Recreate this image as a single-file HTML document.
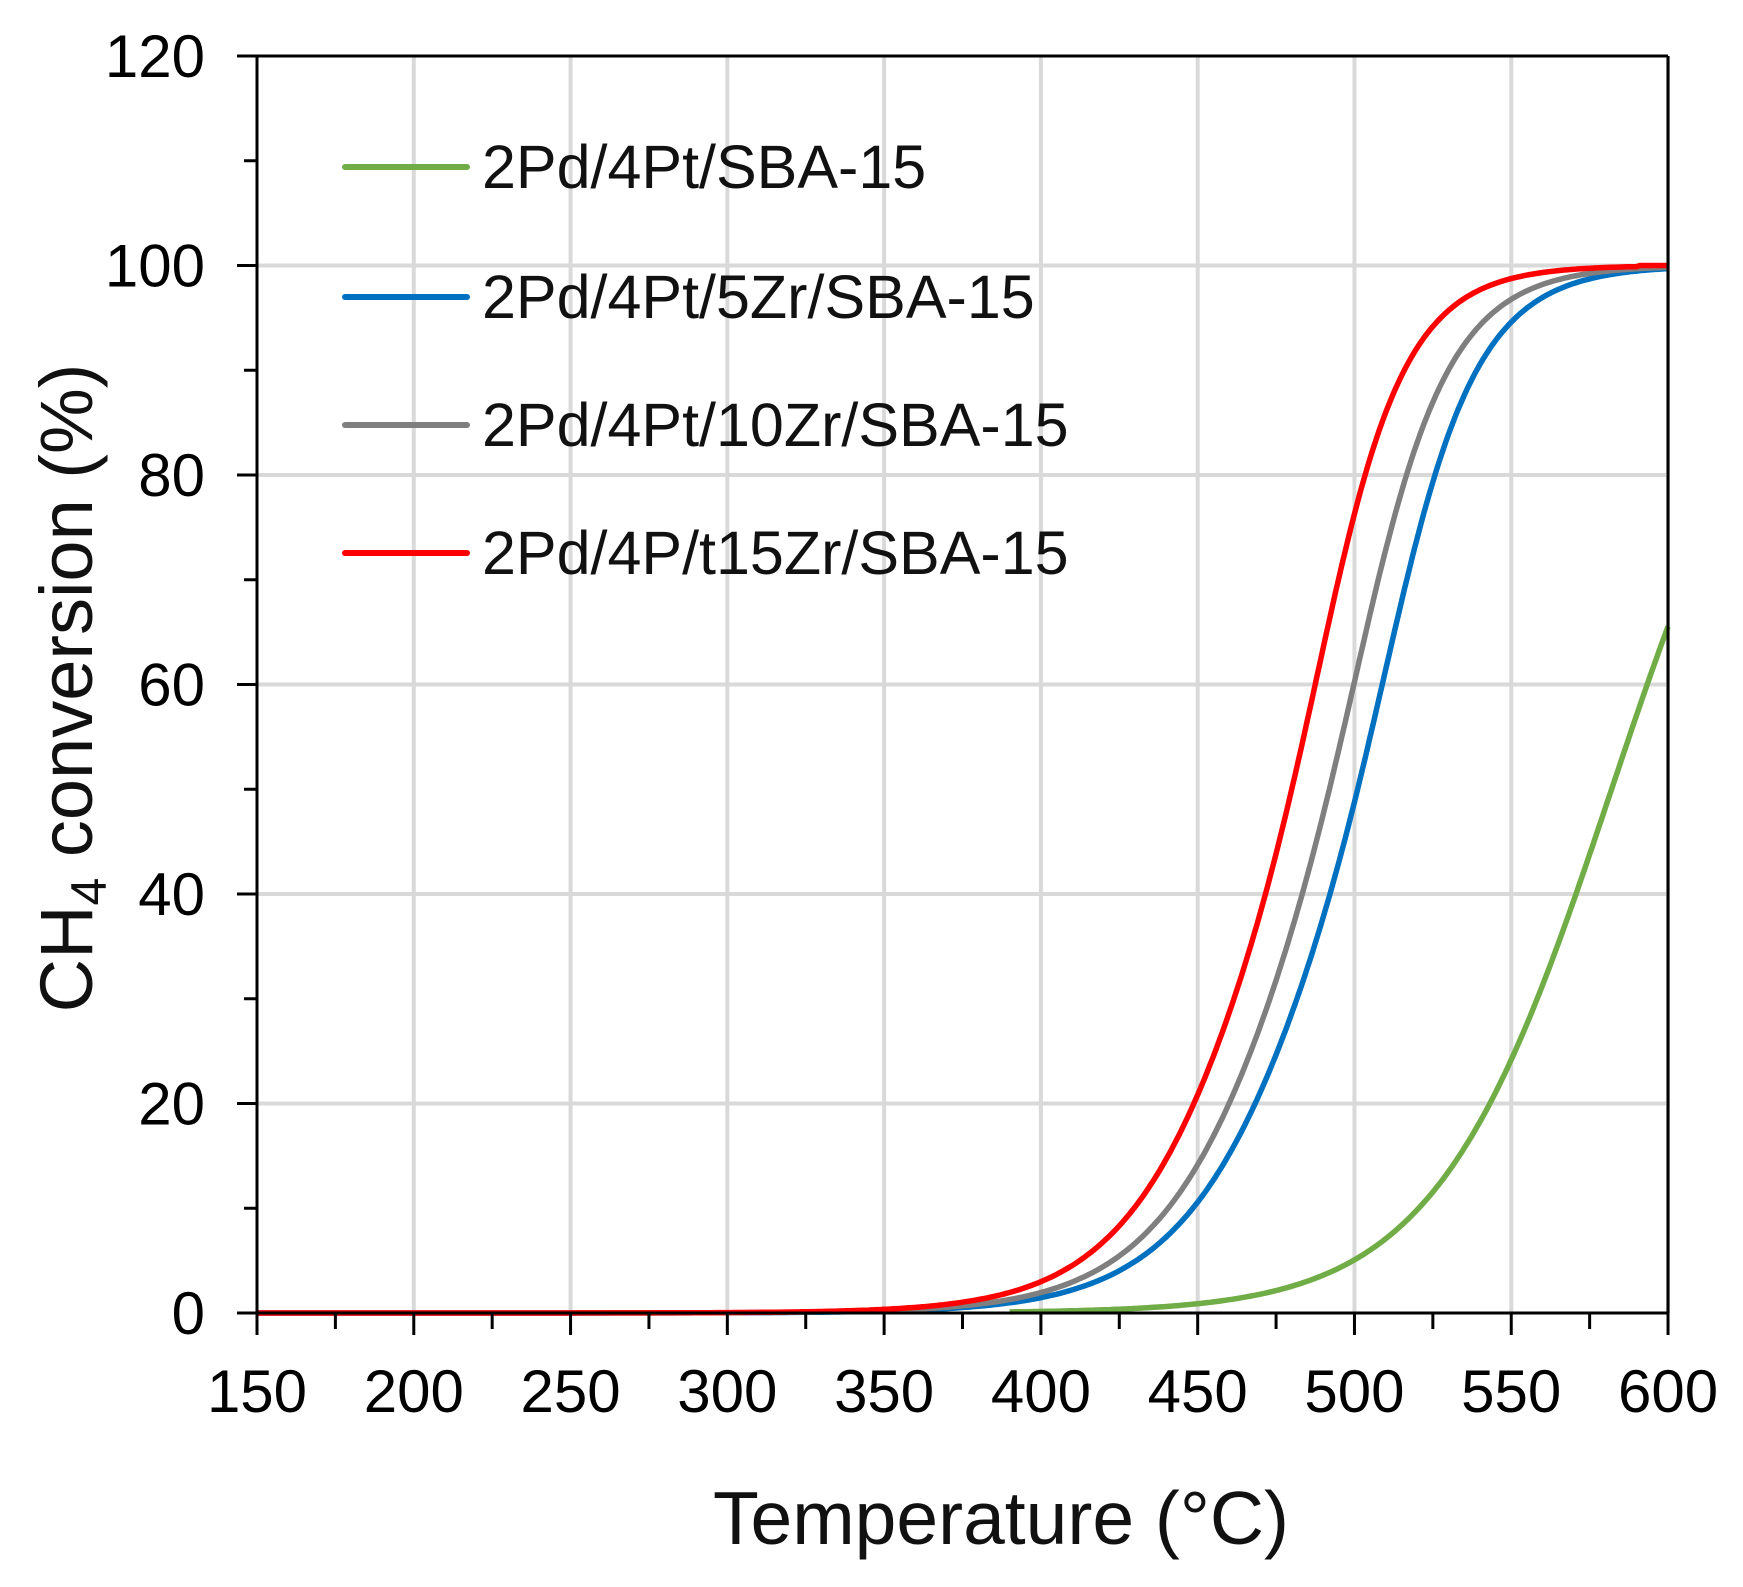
<!DOCTYPE html>
<html><head><meta charset="utf-8"><style>
html,body{margin:0;padding:0;background:#fff;}
svg{display:block;font-family:"Liberation Sans",Arial,sans-serif;}
</style></head><body>
<svg id="s" width="1743" height="1587" viewBox="0 0 1743 1587" xmlns="http://www.w3.org/2000/svg">
<rect width="1743" height="1587" fill="#fff"/>
<g id="grid" stroke="#d9d9d9" stroke-width="4"></g>
<g id="curves" fill="none" stroke-width="5.5" stroke-linejoin="round"></g>
<g id="axes" stroke="#000" stroke-width="3"></g>
<g id="labels" font-size="60" fill="#000"></g>
<g font-size="61" fill="#111">
<line x1="345" y1="167" x2="467" y2="167" stroke="#70ad47" stroke-width="6" stroke-linecap="round"/>
<text x="482" y="188">2Pd/4Pt/SBA-15</text>
<line x1="345" y1="297" x2="467" y2="297" stroke="#0070c0" stroke-width="6" stroke-linecap="round"/>
<text x="482" y="318">2Pd/4Pt/5Zr/SBA-15</text>
<line x1="345" y1="425" x2="467" y2="425" stroke="#7f7f7f" stroke-width="6" stroke-linecap="round"/>
<text x="482" y="446">2Pd/4Pt/10Zr/SBA-15</text>
<line x1="345" y1="553" x2="467" y2="553" stroke="#ff0000" stroke-width="6" stroke-linecap="round"/>
<text x="482" y="574">2Pd/4P/t15Zr/SBA-15</text>
</g>
<text x="1001" y="1544" font-size="75" text-anchor="middle" fill="#111">Temperature (°C)</text>
<text transform="translate(92,688) rotate(-90)" font-size="74" text-anchor="middle" fill="#111">CH<tspan font-size="50" dy="14">4</tspan><tspan dy="-14"> conversion (%)</tspan></text>
</svg>
<script>
var NS="http://www.w3.org/2000/svg";
function px(T){return 257+(T-150)*3.1356;}
function py(v){return 1313-v*10.475;}
function el(p,tag,a,txt){var e=document.createElementNS(NS,tag);for(var k in a)e.setAttribute(k,a[k]);if(txt!==undefined)e.textContent=txt;document.getElementById(p).appendChild(e);}
for(var T=200;T<=600;T+=50)el("grid","line",{x1:px(T),y1:py(120),x2:px(T),y2:py(0)});
for(var v=20;v<=100;v+=20)el("grid","line",{x1:px(150),y1:py(v),x2:px(600),y2:py(v)});
function f(T,m,s1,s2){var w=1/(1+Math.exp(-(T-m)/12));var s=s1+(s2-s1)*w;return 100/(1+Math.exp(-(T-m)/s));}
var series=[
 ["#70ad47",390,582,28,28],
 ["#0070c0",150,501,24,17],
 ["#7f7f7f",150,492,23.5,17],
 ["#ff0000",150,480,23,16]];
series.forEach(function(c){
 var d="";
 for(var T=c[1];T<=600;T+=1){var v=f(T,c[2],c[3],c[4]);if(v>99.9)v=100;
  d+=(d?"L":"M")+px(T).toFixed(1)+","+py(v).toFixed(1);}
 el("curves","path",{d:d,stroke:c[0]});
});
el("axes","line",{x1:px(150),y1:py(0),x2:px(600),y2:py(0)});
el("axes","line",{x1:px(150),y1:py(120),x2:px(600),y2:py(120)});
el("axes","line",{x1:px(150),y1:py(0),x2:px(150),y2:py(120)});
el("axes","line",{x1:px(600),y1:py(0),x2:px(600),y2:py(120)});
for(var T=150;T<=600;T+=25){var L=(T%50==0)?22:16;el("axes","line",{x1:px(T),y1:py(0),x2:px(T),y2:py(0)+L});}
for(var v=0;v<=120;v+=10){var L=(v%20==0)?20:13;el("axes","line",{x1:px(150)-L,y1:py(v),x2:px(150),y2:py(v)});}
for(var T=150;T<=600;T+=50)el("labels","text",{x:px(T),y:1412,"text-anchor":"middle"},String(T));
for(var v=0;v<=120;v+=20)el("labels","text",{x:205,y:py(v)+21,"text-anchor":"end"},String(v));
</script>
</body></html>
